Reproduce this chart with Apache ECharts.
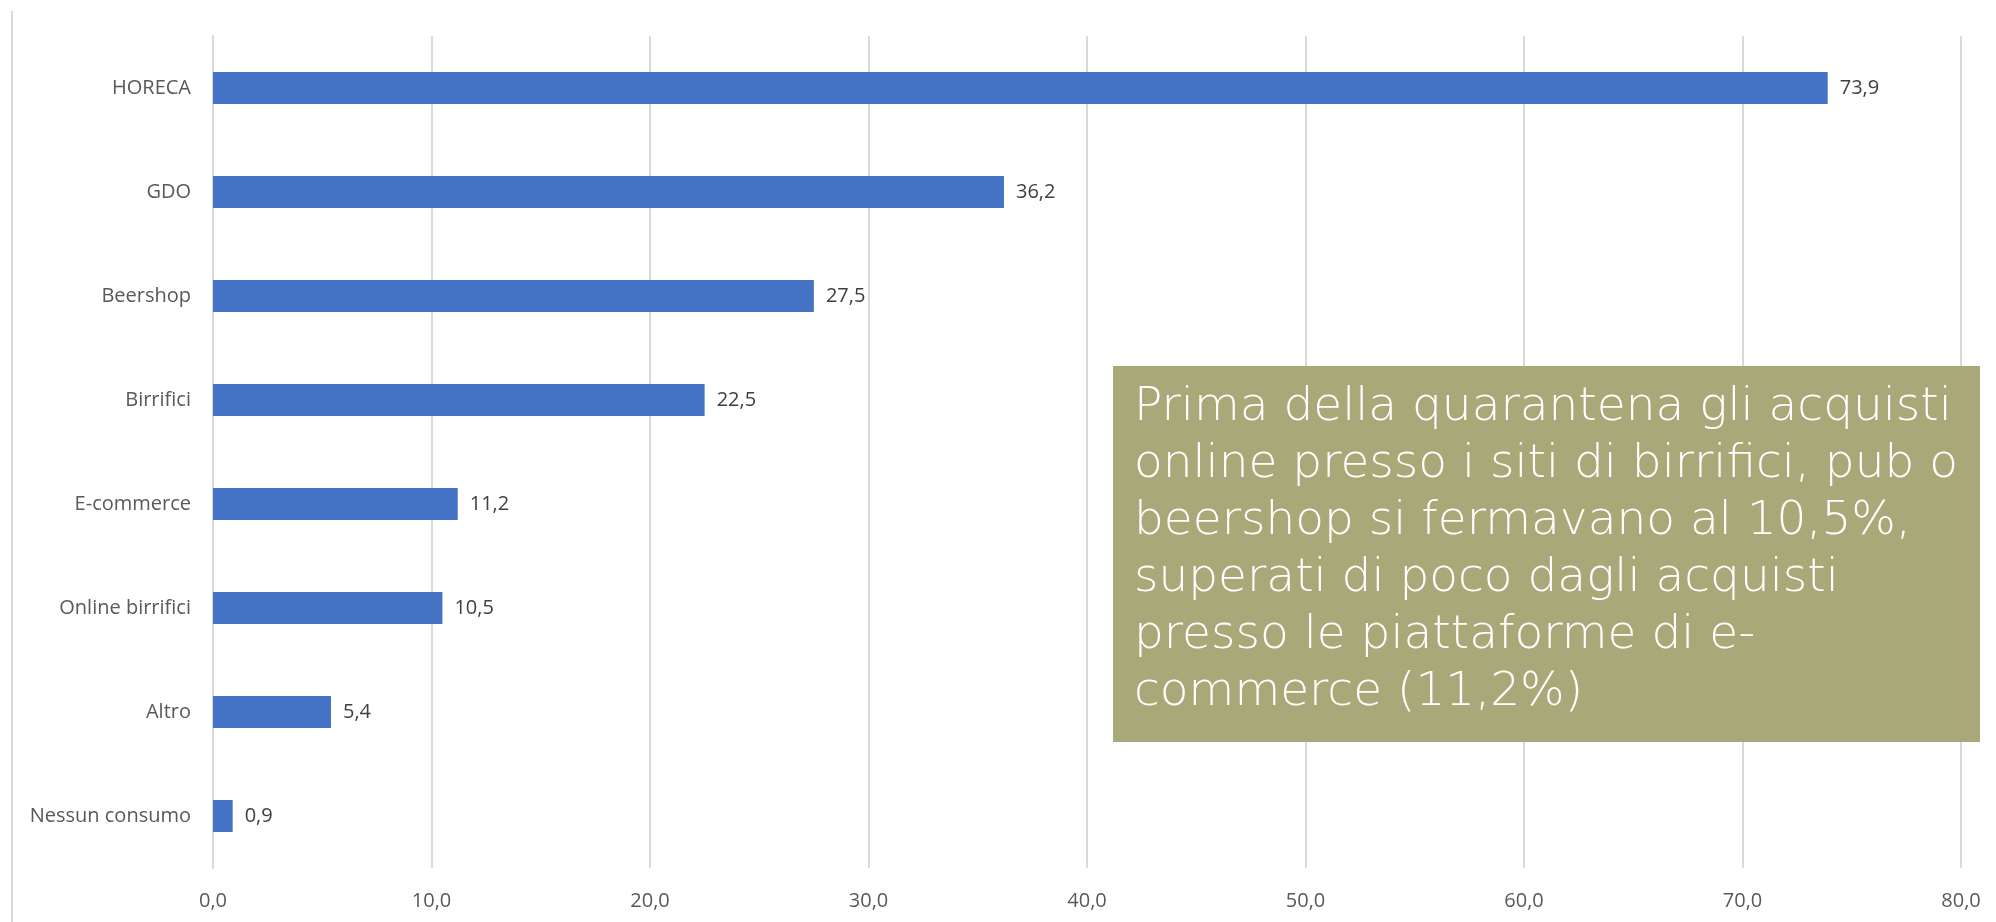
<!DOCTYPE html>
<html>
<head>
<meta charset="utf-8">
<script src="https://cdn.jsdelivr.net/npm/echarts@6/dist/echarts.min.js"></script>
<style>
html,body{margin:0;padding:0;background:#fff;}
#chart{width:1996px;height:922px;}
</style>
</head>
<body>
<div id="chart"></div>
<script>
const categories = ['HORECA', 'GDO', 'Beershop', 'Birrifici', 'E-commerce', 'Online birrifici', 'Altro', 'Nessun consumo'];
const values = [73.9, 36.2, 27.5, 22.5, 11.2, 10.5, 5.4, 0.9];
const axisMin = 0, axisMax = 80, axisStep = 10;
const noteLines = [
  'Prima della quarantena gli acquisti',
  'online presso i siti di birrifici, pub o',
  'beershop si fermavano al 10,5%,',
  'superati di poco dagli acquisti',
  'presso le piattaforme di e-',
  'commerce (11,2%)'
];

const fmt = v => Number(v).toFixed(1).replace('.', ',');
const chart = echarts.init(document.getElementById('chart'));
chart.setOption({
  animation: false,
  backgroundColor: '#ffffff',
  grid: { left: 213, right: 35, top: 36, bottom: 54, containLabel: false },
  xAxis: {
    type: 'value', min: axisMin, max: axisMax, interval: axisStep,
    axisLine: { show: false }, axisTick: { show: false },
    splitLine: { show: true, lineStyle: { color: '#D9D9D9', width: 2 } },
    axisLabel: { formatter: fmt, color: '#595959', fontSize: 20, fontFamily: 'Open Sans', margin: 23 }
  },
  yAxis: {
    type: 'category', data: categories, inverse: true,
    axisLine: { show: true, lineStyle: { color: '#D9D9D9', width: 2 } },
    axisTick: { show: false },
    axisLabel: { color: '#595959', fontSize: 20, fontFamily: 'Open Sans', margin: 22 }
  },
  series: [{
    type: 'bar', data: values, barWidth: 32,
    itemStyle: { color: '#4472C4' },
    label: { show: true, position: 'right', distance: 12, formatter: p => fmt(p.value),
      color: '#404040', fontSize: 20, fontFamily: 'Open Sans' }
  }],
  graphic: [
    { type: 'line', shape: { x1: 12, y1: 11, x2: 12, y2: 922 }, style: { stroke: '#D9D9D9', lineWidth: 2 }, silent: true },
    { type: 'rect', shape: { x: 1113, y: 366, width: 867, height: 376 }, style: { fill: '#A9A878' }, z: 100 },
    { type: 'text', x: 1134, y: 379, z: 101,
      style: { text: noteLines.join('\n'), fill: '#ffffff', fontSize: 47, lineHeight: 57,
        fontFamily: '"DejaVu Sans ExtraLight", "DejaVu Sans", sans-serif', fontWeight: 200 } }
  ]
});
</script>
</body>
</html>
